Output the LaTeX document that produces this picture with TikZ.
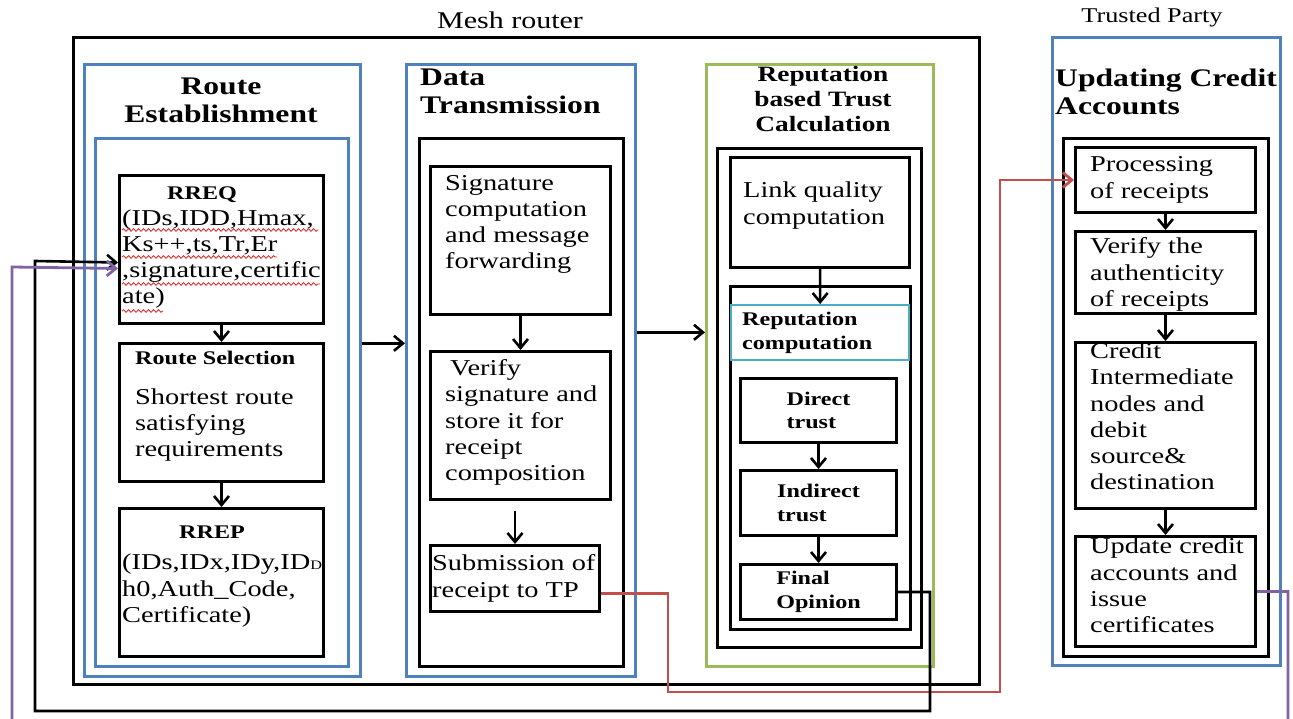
\documentclass[tikz,border=0pt]{standalone}
\usepackage{fontspec}
\setmainfont{Liberation Serif}[FakeStretch=1.25]
\usepackage{tikz}
\usetikzlibrary{arrows.meta,decorations.pathmorphing}
\definecolor{tpblue}{HTML}{4F81BD}
\definecolor{repgreen}{HTML}{9BBB59}
\definecolor{repcyan}{HTML}{4BACC6}
\definecolor{sendred}{HTML}{C0504D}
\definecolor{backpurple}{HTML}{8064A2}
\definecolor{wavered}{HTML}{E02020}
\newcommand\tinyhead{\bfseries\fontsize{19.3}{23.5}\selectfont}

\tikzset{
  frame/.style={draw, line width=2.8pt, anchor=north west, inner sep=0pt},
  bluefr/.style={frame, draw=tpblue, line width=2.6pt},
  box/.style={draw, line width=3pt, anchor=north west, inner sep=0pt},
  txt/.style={anchor=west, align=left, inner sep=0pt, font=\fontsize{22.7}{26.2}\selectfont},
  head/.style={align=center, inner sep=0pt, font=\bfseries\fontsize{25.3}{28}\selectfont},
  flow/.style={line width=2.6pt, -{Straight Barb[length=9pt,width=15pt]}},
  squig/.style={wavered, line width=0.8pt, decorate, decoration={snake, amplitude=1.3pt, segment length=5pt}},
}

\begin{document}
\begin{tikzpicture}[x=1pt,y=-1pt]
  \useasboundingbox (0,0) rectangle (1293,719);
  % mesh router
  \node[frame, minimum width=906, minimum height=647] (mesh) at (72,36) {};
  \node[font=\fontsize{24}{28}\selectfont] (meshlbl) at (510,20) {Mesh router};

  % route establishment
  \node[bluefr, minimum width=276, minimum height=612] (route) at (83,63) {};
  \node[bluefr, minimum width=253, minimum height=528] (routein) at (94,137) {};
  \node[head] (routehd) at (221,100) {Route\\Establishment};
  \node[box, minimum width=204, minimum height=148,
    label={[txt, xshift=4pt, yshift=2pt]west:{\hspace*{45pt}{\tinyhead RREQ}\\
      (IDs,IDD,Hmax,\\ Ks++,ts,Tr,Er\\ ,signature,certific\\ ate)}}] (rreq) at (118,174) {};
  \foreach \y/\len in {230/196, 257/155, 284/198, 311/41}
    \draw[squig] (122,\y) -- ++(\len,0);
  \node[box, minimum width=204, minimum height=138,
    label={[txt, xshift=17pt, yshift=6pt]west:{{\tinyhead Route Selection}\\[13pt]
      Shortest route\\ satisfying\\ requirements}}] (rsel) at (118,342) {};
  \node[box, minimum width=204, minimum height=148,
    label={[txt, xshift=4pt, yshift=6pt]west:{\hspace*{57pt}{\tinyhead RREP}\\[5pt]
      (IDs,IDx,IDy,ID{\fontsize{13}{13}\selectfont D}\\ h0,Auth\_Code,\\ Certificate)}}] (rrep) at (118,507) {};
  \draw[flow] (rreq) -- (rsel);
  \draw[flow] (rsel) -- (rrep);

  % data transmission
  \node[bluefr, minimum width=229, minimum height=612] (data) at (405,63) {};
  \node[frame, minimum width=204, minimum height=528] (datain) at (418,137) {};
  \node[head, anchor=west, align=left] (datahd) at (420,91) {Data\\Transmission};
  \node[box, minimum width=180, minimum height=148,
    label={[txt, xshift=16pt, yshift=16pt]west:{Signature\\ computation\\ and message\\ forwarding}}] (sig) at (429,165) {};
  \node[box, minimum width=180, minimum height=148,
    label={[txt, xshift=16pt, yshift=3pt]west:{\hspace*{5pt}Verify\\ signature and\\ store it for\\ receipt\\ composition}}] (ver) at (429,350) {};
  \node[box, minimum width=169, minimum height=66,
    label={[txt, xshift=3pt]west:{Submission of\\ receipt to TP}}] (sub) at (429,544) {};
  \draw[flow] (sig) -- (ver);
  \draw[flow] (sub.north |- ver.south) ++(0,10) -- (sub.north);

  % reputation based trust
  \node[frame, draw=repgreen, line width=2.6pt, minimum width=227, minimum height=602] (rep) at (705,63) {};
  \node[frame, minimum width=204, minimum height=499] (repin) at (716,147) {};
  \node[frame, minimum width=180, minimum height=343] (repbox) at (729,285) {};
  \node[head, font=\bfseries\fontsize{21.9}{25}\selectfont] (rephd) at (823,99) {Reputation\\based Trust\\Calculation};
  \node[box, minimum width=179, minimum height=110,
    label={[txt, xshift=14pt, yshift=7pt]west:{Link quality\\ computation}}] (link) at (729,156) {};
  \node[box, draw=repcyan, line width=2.4pt, minimum width=178, minimum height=55,
    label={[txt, font=\tinyhead, xshift=12pt]west:{Reputation\\ computation}}] (repcomp) at (730,304) {};
  \node[box, minimum width=156, minimum height=64, align=left, font=\tinyhead] (direct) at (739,377) {Direct\\trust};
  \node[box, minimum width=156, minimum height=65, align=left, font=\tinyhead] (indirect) at (739,469) {Indirect\\trust};
  \node[box, minimum width=156, minimum height=55, align=left, font=\tinyhead] (final) at (739,563) {Final\\Opinion};
  \draw[flow] (link) -- (repcomp);
  \draw[flow] (direct) -- (indirect);
  \draw[flow] (indirect) -- (final);

  % trusted party
  \node[bluefr, minimum width=228, minimum height=628] (tp) at (1051,36) {};
  \node[frame, minimum width=205, minimum height=518] (tpin) at (1062,137) {};
  \node[font=\fontsize{21}{24}\selectfont] (tplbl) at (1152,17) {Trusted Party};
  \node[head, anchor=west, align=left] (tphd) at (1055,92) {Updating Credit\\Accounts};
  \node[box, minimum width=180, minimum height=65,
    label={[txt, xshift=16pt]west:{Processing\\ of receipts}}] (proc) at (1074,146) {};
  \node[box, minimum width=180, minimum height=82,
    label={[txt, xshift=16pt, yshift=-2pt]west:{Verify the\\ authenticity\\ of receipts}}] (vauth) at (1074,230) {};
  \node[box, minimum width=180, minimum height=166,
    label={[txt, xshift=16pt, yshift=9pt]west:{Credit\\ Intermediate\\ nodes and\\ debit\\ source\&\\ destination}}] (credit) at (1074,341) {};
  \node[box, minimum width=180, minimum height=110,
    label={[txt, xshift=16pt, yshift=6pt]west:{Update credit\\ accounts and\\ issue\\ certificates}}] (update) at (1074,535) {};
  \draw[flow] (proc) -- (vauth);
  \draw[flow] (vauth) -- (credit);
  \draw[flow] (credit) -- (update);

  % block to block
  \coordinate (rt) at ([yshift=27pt]route.east);
  \draw[flow] (rt) -- (rt -| data.west);
  \coordinate (dt) at ([yshift=38pt]data.east);
  \draw[flow] (dt) -- (dt -| rep.west);

  % feedback lines
  \draw[flow, sendred, line width=2.8pt] ([yshift=-15pt]sub.east) -| (668,692) -- (1000,692) |- (proc.west);
  \draw[flow] (final.east) -| (930,711) -| (35,261) -- ([yshift=-13pt]rreq.west);
  \draw[flow, backpurple, line width=2.8pt] (update.east) -| (1288,730) -| (12,267) -- ([yshift=-19pt]rreq.west);
\end{tikzpicture}
\end{document}
